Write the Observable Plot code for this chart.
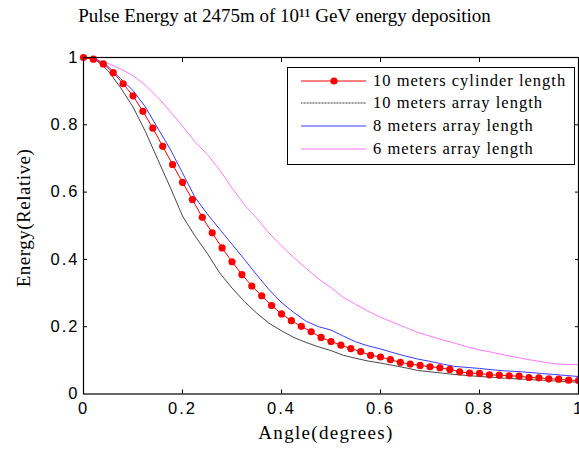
<!DOCTYPE html>
<html><head><meta charset="utf-8">
<script src="https://cdn.jsdelivr.net/npm/d3@7"></script>
<script src="https://cdn.jsdelivr.net/npm/@observablehq/plot@0.6"></script>
<style>
body{margin:0;background:#fff;}
#wrap{position:relative;width:579px;height:449px;overflow:hidden;}
#title{position:absolute;left:0;top:5px;width:569px;text-align:center;font:19px "Liberation Serif",serif;color:#000;}
#chart{position:absolute;left:0;top:40px;}
#chart svg text{letter-spacing:2px;}
#xlab{position:absolute;left:226px;width:200px;top:422px;text-align:center;font:19px "Liberation Serif",serif;letter-spacing:1.3px;}
#ylab{position:absolute;left:24px;top:218px;transform:translate(-50%,-50%) rotate(-90deg);white-space:nowrap;font:19px "Liberation Serif",serif;letter-spacing:0.5px;}
#legend{position:absolute;left:287px;top:67px;width:288px;height:98px;border:1px solid #000;background:#fff;box-sizing:border-box;}
.row{position:absolute;left:0;height:20px;display:flex;align-items:center;font:16.5px "Liberation Serif",serif;letter-spacing:1px;white-space:nowrap;}
.row svg{margin-left:13px;margin-right:7px;}
</style></head><body>
<div id="wrap">
<div id="title">Pulse Energy at 2475m of 10¹¹ GeV energy deposition</div>
<div id="chart"></div>
<div id="xlab">Angle(degrees)</div>
<div id="ylab">Energy(Relative)</div>
<div id="legend"></div>
</div>
<script>
const seriesNames = ["10 meters cylinder length","10 meters array length","8 meters array length","6 meters array length"];
const seriesColors = ["#ff0000","#333333","#3a3aff","#ff77ff"];
const xTicks = [0,0.2,0.4,0.6,0.8,1];
const yTicks = [0,0.2,0.4,0.6,0.8,1];
const innerTicks = [0.2,0.4,0.6,0.8];

const angleFine = [0,0.02,0.04,0.06,0.08,0.1,0.12,0.14,0.16,0.18,0.2,0.22,0.24,0.26,0.28,0.3,0.32,0.34,0.36,0.38,0.4,0.42,0.44,0.46,0.48,0.5,0.52,0.54,0.56,0.58,0.6,0.62,0.64,0.66,0.68,0.7,0.72,0.74,0.76,0.78,0.8,0.82,0.84,0.86,0.88,0.9,0.92,0.94,0.96,0.98,1];
const cylinder10 = [1.0,0.995,0.981,0.955,0.922,0.886,0.840,0.790,0.736,0.682,0.629,0.578,0.525,0.479,0.434,0.393,0.355,0.321,0.292,0.263,0.238,0.218,0.201,0.185,0.168,0.156,0.145,0.135,0.126,0.115,0.110,0.102,0.094,0.089,0.085,0.081,0.078,0.073,0.066,0.062,0.061,0.057,0.056,0.054,0.053,0.049,0.048,0.045,0.044,0.041,0.040];

const angleLine = [0,0.025,0.05,0.075,0.1,0.125,0.15,0.175,0.2,0.225,0.25,0.275,0.3,0.325,0.35,0.375,0.4,0.425,0.45,0.475,0.5,0.525,0.55,0.575,0.6,0.625,0.65,0.675,0.7,0.725,0.75,0.775,0.8,0.825,0.85,0.875,0.9,0.925,0.95,0.975,1];
const array10 = [1.0,0.993,0.96,0.91,0.853,0.78,0.697,0.615,0.529,0.47,0.418,0.36,0.315,0.275,0.24,0.21,0.188,0.168,0.153,0.14,0.129,0.115,0.106,0.098,0.092,0.085,0.078,0.07,0.066,0.062,0.058,0.055,0.052,0.05,0.047,0.045,0.043,0.041,0.039,0.037,0.035];
const array8  = [1.0,0.995,0.973,0.937,0.902,0.853,0.79,0.728,0.657,0.585,0.535,0.49,0.445,0.40,0.354,0.31,0.272,0.242,0.216,0.2,0.19,0.172,0.155,0.143,0.134,0.123,0.113,0.104,0.097,0.089,0.082,0.079,0.076,0.072,0.069,0.067,0.064,0.061,0.058,0.055,0.052];
const array6  = [1.0,0.995,0.982,0.966,0.946,0.918,0.882,0.84,0.796,0.75,0.712,0.666,0.612,0.562,0.522,0.478,0.44,0.405,0.373,0.342,0.316,0.287,0.266,0.246,0.228,0.213,0.198,0.183,0.172,0.161,0.151,0.14,0.131,0.124,0.116,0.109,0.102,0.096,0.09,0.088,0.087];

const redData = angleFine.map((a,i)=>({a, v: cylinder10[i]}));
const lineData = (arr)=>angleLine.map((a,i)=>({a, v: arr[i]}));

const fmt = d => String(d);
const chart = Plot.plot({
  width: 579, height: 409,
  marginTop: 17, marginBottom: 55.5, marginLeft: 83, marginRight: 1,
  x: {domain:[0,1]},
  y: {domain:[0,1]},
  style: {background:"#fff"},
  marks: [
    Plot.line(lineData(array6), {x:"a", y:"v", stroke: seriesColors[3], strokeWidth:1}),
    Plot.line(lineData(array8), {x:"a", y:"v", stroke: seriesColors[2], strokeWidth:1}),
    Plot.line(lineData(array10), {x:"a", y:"v", stroke: seriesColors[1], strokeWidth:0.9}),
    Plot.line(redData, {x:"a", y:"v", stroke: seriesColors[0], strokeWidth:1}),
    Plot.dot(redData, {x:"a", y:"v", fill: seriesColors[0], r:3.6}),
    Plot.frame({stroke:"#000", strokeWidth:1.2}),
    Plot.axisX(xTicks, {anchor:"bottom", tickSize:0, tickPadding:8, tickFormat:fmt, fontSize:16.5, fontFamily:"Liberation Sans", fill:"#000"}),
    Plot.axisY(yTicks, {anchor:"left", tickSize:0, tickPadding:4, tickFormat:fmt, fontSize:16.5, fontFamily:"Liberation Sans", fill:"#000"}),
    Plot.axisX(innerTicks, {anchor:"bottom", tickSize:-4, tickFormat:()=>"", label:null}),
    Plot.axisX(innerTicks, {anchor:"top", tickSize:-4, tickFormat:()=>"", label:null}),
    Plot.axisY(innerTicks, {anchor:"left", tickSize:-4, tickFormat:()=>"", label:null}),
    Plot.axisY(innerTicks, {anchor:"right", tickSize:-4, tickFormat:()=>"", label:null})
  ]
});
chart.querySelectorAll('[aria-label="x-axis label"],[aria-label="y-axis label"]').forEach(n=>n.remove());
document.getElementById("chart").appendChild(chart);

const legend = document.getElementById("legend");
const rowTops = [3, 25, 48, 71];
seriesNames.forEach((name,i)=>{
  const row = document.createElement("div");
  row.className = "row";
  row.style.top = rowTops[i] + "px";
  const marker = i===0 ? `<circle cx="33" cy="5" r="3.6" fill="${seriesColors[0]}"/>` : "";
  row.innerHTML = `<svg width="65" height="10"><line x1="0" x2="65" y1="5" y2="5" stroke="${seriesColors[i]}" stroke-width="1"${i===1?' stroke-dasharray="1,0.5"':''}/>${marker}</svg><span>${name}</span>`;
  legend.appendChild(row);
});
</script>
</body></html>
